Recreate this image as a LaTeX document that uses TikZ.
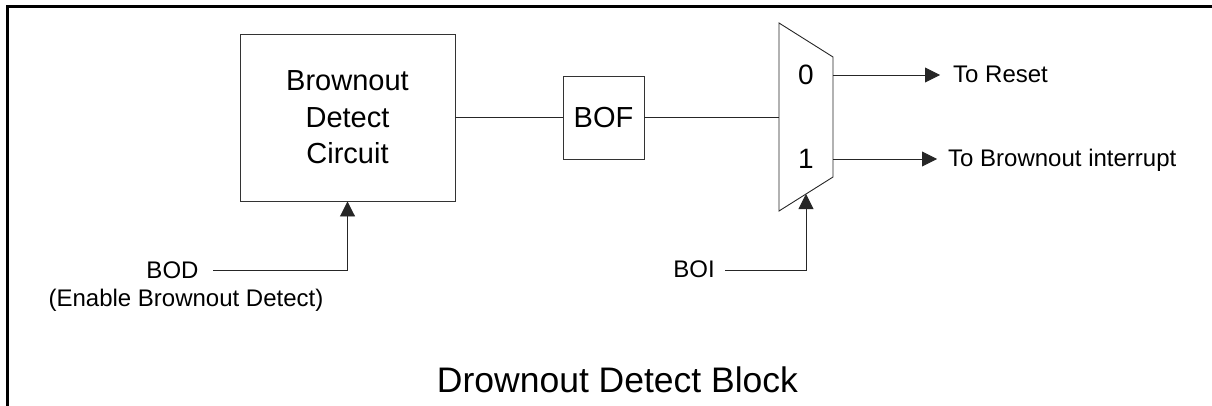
\documentclass[tikz,border=0pt]{standalone}
\usepackage{fontspec}
\setmainfont{Liberation Sans}
\usetikzlibrary{arrows.meta}
\begin{document}
\begin{tikzpicture}[x=1pt,y=-1pt,
  wire/.style={line width=0.9pt,draw=black!85},
  arr/.style={wire,-{Triangle[length=15pt,width=15pt]}},
  blockbox/.style={draw=black!80,line width=0.9pt,rectangle,inner sep=0pt},
  lbl/.style={font=\fontsize{24}{28}\selectfont,inner sep=0pt,anchor=base},
  big/.style={font=\fontsize{29}{36.5}\selectfont,align=center}]
\useasboundingbox (0,0) rectangle (1212,406);
% frame
\draw[line width=2.6pt] (7.5,406) -- (7.5,6.7) -- (1212,6.7);
% blocks
\node[blockbox,big,minimum width=215pt,minimum height=167pt] (bdc) at (347.5,117.5) {Brownout\\Detect\\Circuit};
\node[blockbox,big,minimum width=81pt,minimum height=83pt] (bof) at (603.5,117.5) {BOF};
% mux
\draw[wire] (779,23) -- (833,57) -- (833,177) -- (779,211) -- cycle;
\coordinate (muxin) at (779,117.5);
\coordinate (muxsel) at (806,194);
\coordinate (out0) at (833,75);
\coordinate (out1) at (833,159);
\coordinate (tip0) at (940,75);
\coordinate (tip1) at (937,159);
\node[font=\fontsize{28}{32}\selectfont] (m0) at (806,75) {0};
\node[font=\fontsize{28}{32}\selectfont] (m1) at (806,158.5) {1};
% labels
\node[lbl] (bod) at (172.5,278) {BOD};
\node[lbl] (en) at (186,306) {(Enable Brownout Detect)};
\node[lbl] (boi) at (694,277) {BOI};
\node[lbl,anchor=base west] (rst) at (953,83) {To Reset};
\node[lbl,anchor=base west] (bint) at (948,167) {To Brownout interrupt};
\node[font=\fontsize{35.5}{40}\selectfont,inner sep=0pt,anchor=base] (title) at (617.5,392.5) {Drownout Detect Block};
\coordinate (bodin) at (213,270);
\coordinate (boiin) at (725,270);
% connectors
\draw[wire] (bdc.east) -- (bof.west);
\draw[wire] (bof.east) -- (muxin);
\draw[arr] (bodin) -| (bdc.south);
\draw[arr] (boiin) -| (muxsel);
\draw[arr] (out0) -- (tip0);
\draw[arr] (out1) -- (tip1);
\end{tikzpicture}
\end{document}
